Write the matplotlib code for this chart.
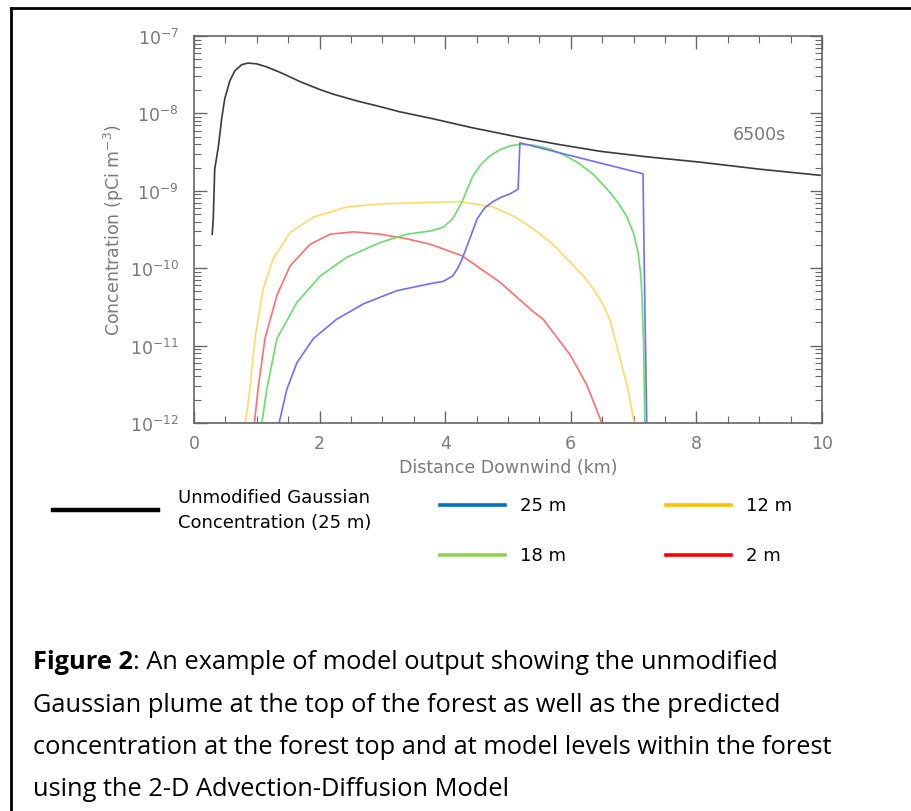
import numpy as np
import matplotlib
matplotlib.use('Agg')
import matplotlib.pyplot as plt
from matplotlib.lines import Line2D
from matplotlib.ticker import LogLocator, MultipleLocator

# distance downwind (km) and log10 of concentration (pCi m^-3)
gauss_x = [0.29, 0.307, 0.33, 0.39, 0.44, 0.49, 0.57, 0.65, 0.76, 0.86, 1.0, 1.16, 1.4, 1.69, 2.0, 2.21,
           2.6, 3.0, 3.28, 3.81, 4.4, 5.19, 5.8, 6.47, 7.2, 8.06, 9.0, 9.97]
gauss_y = [-9.56, -9.36, -8.72, -8.42, -8.07, -7.81, -7.58, -7.45, -7.37, -7.35, -7.36, -7.40, -7.48, -7.59,
           -7.69, -7.75, -7.84, -7.92, -7.98, -8.07, -8.18, -8.31, -8.40, -8.49, -8.56, -8.63, -8.72, -8.80]

m25_x = [1.34, 1.48, 1.64, 1.90, 2.27, 2.70, 3.23, 3.76, 3.97, 4.12, 4.2, 4.27, 4.4, 4.51, 4.63, 4.76, 4.9,
         5.03, 5.16, 5.19, 7.15, 7.17, 7.21]
m25_y = [-12.05, -11.56, -11.22, -10.91, -10.66, -10.46, -10.29, -10.20, -10.17, -10.10, -10.0, -9.88, -9.6,
         -9.36, -9.22, -9.14, -9.08, -9.04, -8.98, -8.38, -8.78, -10.0, -12.05]

m18_x = [1.07, 1.16, 1.32, 1.64, 2.01, 2.43, 2.96, 3.39, 3.76, 3.97, 4.12, 4.27, 4.35, 4.44, 4.57, 4.71, 4.87,
         5.03, 5.19, 5.4, 5.67, 5.9, 6.10, 6.35, 6.58, 6.75, 6.89, 7.0, 7.07, 7.11, 7.13, 7.16, 7.18]
m18_y = [-12.05, -11.56, -10.91, -10.44, -10.10, -9.86, -9.67, -9.56, -9.52, -9.47, -9.36, -9.14, -8.98, -8.81,
         -8.66, -8.55, -8.47, -8.42, -8.40, -8.41, -8.46, -8.54, -8.63, -8.78, -8.98, -9.15, -9.33, -9.55,
         -9.79, -10.05, -10.30, -11.0, -12.05]

m12_x = [0.81, 0.89, 0.97, 1.10, 1.26, 1.53, 1.90, 2.43, 2.96, 3.76, 4.24, 4.76, 5.1, 5.40, 5.7, 5.94, 6.2,
         6.36, 6.5, 6.62, 6.78, 6.92, 7.02]
m12_y = [-12.05, -11.56, -10.91, -10.27, -9.88, -9.54, -9.34, -9.21, -9.17, -9.15, -9.14, -9.21, -9.33, -9.49,
         -9.68, -9.88, -10.1, -10.27, -10.45, -10.66, -11.15, -11.6, -12.05]

m2_x = [0.955, 1.02, 1.13, 1.32, 1.53, 1.85, 2.17, 2.54, 2.96, 3.39, 3.76, 4.27, 4.87, 5.40, 5.56, 5.99,
        6.25, 6.52]
m2_y = [-12.05, -11.56, -10.91, -10.35, -9.97, -9.69, -9.56, -9.53, -9.56, -9.62, -9.69, -9.84, -10.18,
        -10.56, -10.66, -11.12, -11.5, -12.05]

legend_labels = ['Unmodified Gaussian', 'Concentration (25 m)', '25 m', '12 m', '18 m', '2 m']
legend_colors = ['#000000', '#0070c0', '#ffc000', '#92d050', '#ff0000']

caption_bold = 'Figure 2'
caption_rest = [': An example of model output showing the unmodified',
                'Gaussian plume at the top of the forest as well as the predicted',
                'concentration at the forest top and at model levels within the forest',
                'using the 2-D Advection-Diffusion Model']

W, H = 912, 812
fig = plt.figure(figsize=(W / 100, H / 100), dpi=100)

axcol = '#666666'
txtcol = '#7a7a7a'
ax = fig.add_axes([194 / W, 1 - 424 / H, (822 - 194) / W, (424 - 37) / H])
ax.plot(gauss_x, 10 ** np.array(gauss_y), color='#3a3a3a', lw=1.2)
ax.plot(m12_x, 10 ** np.array(m12_y), color='#ffd966', lw=1.2)
ax.plot(m2_x, 10 ** np.array(m2_y), color='#ff6e6e', lw=1.2)
ax.plot(m18_x, 10 ** np.array(m18_y), color='#66e066', lw=1.2)
ax.plot(m25_x, 10 ** np.array(m25_y), color='#6e6eff', lw=1.2)

ax.set_yscale('log')
ax.set_xlim(0, 10)
ax.set_ylim(1e-12, 1e-7)
ax.xaxis.set_major_locator(MultipleLocator(2))
ax.xaxis.set_minor_locator(MultipleLocator(0.5))
ax.yaxis.set_major_locator(LogLocator(base=10, numticks=10))
ax.yaxis.set_minor_locator(LogLocator(base=10, subs=np.arange(2, 10), numticks=10))
ax.tick_params(which='both', direction='in', top=True, right=True, colors=axcol,
               labelcolor=txtcol, labelsize=12.5)
ax.tick_params(which='major', length=9, width=1)
ax.tick_params(which='minor', length=5, width=0.8)
ax.tick_params(axis='x', which='major', pad=8)
ax.tick_params(axis='y', which='major', pad=11)
for s in ax.spines.values():
    s.set_color(axcol)
    s.set_linewidth(1.2)
ax.set_xlabel('Distance Downwind (km)', color=txtcol, fontsize=12.5, labelpad=4)
ax.set_ylabel('Concentration (pCi m$^{-3}$)', color=txtcol, fontsize=12.5)
ax.yaxis.set_label_coords(-0.108, 0.5)
ax.text(9.0, 10 ** -8.27, '6500s', color=txtcol, fontsize=12.5, ha='center', va='center')

# legend drawn by hand below the plot
lf = ['Liberation Sans Narrow', 'DejaVu Sans']
def px(x, y):
    return x / W, 1 - y / H
fig.add_artist(Line2D([53 / W, 158 / W], [1 - 511 / H] * 2, color=legend_colors[0], lw=3.2))
fig.text(*px(178, 498), legend_labels[0], family=lf, fontsize=13, va='center', ha='left')
fig.text(*px(178, 523), legend_labels[1], family=lf, fontsize=13, va='center', ha='left')
spots = [(440, 506), (666, 506), (440, 556), (666, 556)]
for (x0, y0), lab, c in zip(spots, legend_labels[2:], legend_colors[1:]):
    fig.add_artist(Line2D([x0 / W, (x0 + 65) / W], [1 - y0 / H] * 2, color=c, lw=2.6))
    fig.text(*px(x0 + 80, y0), lab, family=lf, fontsize=13, va='center', ha='left')

# caption
cf = 'Open Sans'
cs = 18.3
t = fig.text(*px(33, 663), caption_bold, family=cf, fontsize=cs, weight='bold', va='center', ha='left')
fig.canvas.draw()
bb = t.get_window_extent()
fig.text(bb.x1 / W, 1 - 663 / H, caption_rest[0], family=cf, fontsize=cs, va='center', ha='left')
for i, line in enumerate(caption_rest[1:]):
    fig.text(*px(33, 706 + 42 * i), line, family=cf, fontsize=cs, va='center', ha='left')

# frame around the figure
fig.add_artist(Line2D([11 / W, 11 / W], [0, 1 - 9 / H], color='black', lw=2))
fig.add_artist(Line2D([11 / W, 1], [1 - 9 / H] * 2, color='black', lw=2))

fig.savefig('out.png', dpi=100)
